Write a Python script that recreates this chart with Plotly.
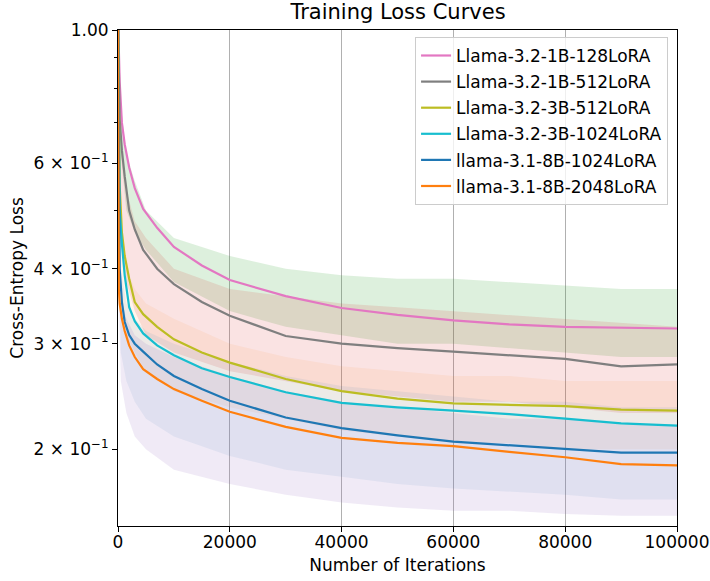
import plotly.graph_objects as go

# ---------------- data ----------------
iters = [0, 150, 300, 700, 1200, 2000, 3000, 4500, 7000, 10000, 15000, 20000,
         30000, 40000, 50000, 60000, 70000, 80000, 90000, 100000]

series_names = ["Llama-3.2-1B-128LoRA", "Llama-3.2-1B-512LoRA", "Llama-3.2-3B-512LoRA",
                "Llama-3.2-3B-1024LoRA", "llama-3.1-8B-1024LoRA", "llama-3.1-8B-2048LoRA"]

loss_1b_128 = [1.05, 0.90, 0.82, 0.70, 0.645, 0.59, 0.545, 0.503, 0.468, 0.435, 0.405, 0.383,
               0.360, 0.344, 0.335, 0.328, 0.323, 0.320, 0.319, 0.318]
loss_1b_512 = [1.05, 0.80, 0.71, 0.63, 0.57, 0.50, 0.465, 0.43, 0.40, 0.377, 0.352, 0.334,
               0.309, 0.300, 0.295, 0.291, 0.287, 0.283, 0.275, 0.277]
loss_3b_512 = [1.05, 0.65, 0.55, 0.46, 0.42, 0.385, 0.352, 0.336, 0.320, 0.305, 0.290, 0.279,
               0.262, 0.250, 0.243, 0.2385, 0.237, 0.236, 0.233, 0.232]
loss_3b_1024 = [1.05, 0.60, 0.50, 0.44, 0.39, 0.345, 0.327, 0.312, 0.298, 0.287, 0.273, 0.264,
                0.249, 0.239, 0.235, 0.232, 0.229, 0.225, 0.221, 0.219]
loss_8b_1024 = [1.05, 0.45, 0.40, 0.352, 0.326, 0.31, 0.30, 0.291, 0.277, 0.265, 0.252, 0.241,
                0.226, 0.217, 0.211, 0.206, 0.203, 0.2005, 0.1975, 0.1975]
loss_8b_2048 = [1.05, 0.37, 0.35, 0.33, 0.315, 0.298, 0.285, 0.272, 0.262, 0.252, 0.241, 0.231,
                0.218, 0.209, 0.205, 0.2025, 0.198, 0.194, 0.189, 0.188]

series_values = [loss_1b_128, loss_1b_512, loss_3b_512, loss_3b_1024, loss_8b_1024, loss_8b_2048]

# envelopes of the faint raw (unsmoothed) curves
band_iters = [0, 500, 1500, 3000, 5000, 10000, 20000, 30000, 40000, 50000, 60000, 70000,
              80000, 90000, 100000]
band_green_hi = [1.0, 0.75, 0.62, 0.56, 0.50, 0.45, 0.42, 0.40, 0.39, 0.385, 0.385, 0.38, 0.375, 0.37, 0.37]
band_green_lo = [0.9, 0.62, 0.50, 0.46, 0.43, 0.38, 0.34, 0.32, 0.31, 0.30, 0.30, 0.295, 0.29, 0.285, 0.285]
band_red_hi = [1.0, 0.65, 0.54, 0.48, 0.45, 0.40, 0.37, 0.36, 0.35, 0.345, 0.34, 0.335, 0.33, 0.325, 0.32]
band_red_lo = [0.8, 0.45, 0.38, 0.34, 0.31, 0.29, 0.27, 0.26, 0.25, 0.245, 0.24, 0.24, 0.235, 0.23, 0.23]
band_orange_hi = [0.9, 0.48, 0.40, 0.37, 0.35, 0.33, 0.30, 0.285, 0.275, 0.27, 0.265, 0.265, 0.26, 0.26, 0.26]
band_orange_lo = [0.6, 0.36, 0.31, 0.29, 0.27, 0.25, 0.235, 0.225, 0.215, 0.21, 0.205, 0.205, 0.20, 0.20, 0.20]
band_blue_hi = [0.8, 0.40, 0.35, 0.33, 0.315, 0.30, 0.28, 0.265, 0.255, 0.25, 0.245, 0.24, 0.24, 0.235, 0.235]
band_blue_lo = [0.5, 0.29, 0.26, 0.24, 0.225, 0.21, 0.195, 0.185, 0.18, 0.175, 0.172, 0.17, 0.168, 0.165, 0.165]
band_purple_hi = [0.7, 0.36, 0.33, 0.31, 0.30, 0.285, 0.265, 0.25, 0.24, 0.235, 0.23, 0.225, 0.225, 0.22, 0.22]
band_purple_lo = [0.4, 0.26, 0.23, 0.21, 0.20, 0.185, 0.175, 0.168, 0.163, 0.16, 0.158, 0.158, 0.156, 0.155, 0.155]

x_ticks = [0, 20000, 40000, 60000, 80000, 100000]
y_ticks = [0.2, 0.3, 0.4, 0.6, 1.0]
y_tick_labels = ["2 × 10<sup>−1</sup>", "3 × 10<sup>−1</sup>",
                 "4 × 10<sup>−1</sup>", "6 × 10<sup>−1</sup>", "1.00"]
y_minor_ticks = [0.5, 0.7, 0.8, 0.9]

# ---------------- styles ----------------
line_colors = ["#e377c2", "#7f7f7f", "#bcbd22", "#17becf", "#1f77b4", "#ff7f0e"]
bands = [
    (band_green_lo, band_green_hi, "rgba(44,160,44,0.16)"),
    (band_red_lo, band_red_hi, "rgba(214,39,40,0.13)"),
    (band_orange_lo, band_orange_hi, "rgba(255,127,14,0.08)"),
    (band_blue_lo, band_blue_hi, "rgba(31,119,180,0.08)"),
    (band_purple_lo, band_purple_hi, "rgba(148,103,189,0.14)"),
]

fig = go.Figure()
for lo, hi, col in bands:
    fig.add_trace(go.Scatter(x=band_iters, y=lo, mode="lines", line=dict(width=0, color=col),
                             showlegend=False, hoverinfo="skip"))
    fig.add_trace(go.Scatter(x=band_iters, y=hi, mode="lines", line=dict(width=0, color=col),
                             fill="tonexty", fillcolor=col, showlegend=False, hoverinfo="skip"))

for name, vals, col in zip(series_names, series_values, line_colors):
    fig.add_trace(go.Scatter(x=iters, y=vals, mode="lines", name=name, legendgroup=name,
                             line=dict(color=col, width=2.2)))

W, H = 710, 581
font = "DejaVu Sans, sans-serif"
fig.update_layout(
    width=W, height=H,
    margin=dict(l=118, r=33, t=30, b=55, autoexpand=False),
    paper_bgcolor="white", plot_bgcolor="white",
    font=dict(family=font, size=17, color="black"),
    title=dict(text="Training Loss Curves", x=398 / W, xanchor="center",
               y=1 - 12 / H, yanchor="middle", font=dict(size=21)),
    legend=dict(x=0.984, y=0.986, xanchor="right", yanchor="top",
                bgcolor="rgba(255,255,255,0.8)", bordercolor="#cccccc", borderwidth=1,
                font=dict(size=17), tracegroupgap=1, itemwidth=30),
    showlegend=True,
)
fig.update_xaxes(
    range=[0, 100000], tickvals=x_ticks, ticktext=[str(v) for v in x_ticks],
    showline=True, linecolor="black", linewidth=1, mirror=True, automargin=False,
    ticks="outside", ticklen=5, tickcolor="black", tickfont=dict(size=17),
    ticklabelstandoff=-4,
    showgrid=True, gridcolor="#b0b0b0", gridwidth=1, zeroline=False,
    title=dict(text="Number of Iterations", standoff=7, font=dict(size=17)),
)
fig.update_yaxes(
    type="log", range=[-0.8268, 0], tickvals=y_ticks, ticktext=y_tick_labels,
    showline=True, linecolor="black", linewidth=1, mirror=True, automargin=False,
    ticks="outside", ticklen=5, tickcolor="black", tickfont=dict(size=17),
    minor=dict(tickvals=y_minor_ticks, ticks="outside", ticklen=3, tickcolor="black", showgrid=False),
    showgrid=False, zeroline=False,
    title=dict(text="Cross-Entropy Loss", standoff=5, font=dict(size=17)),
)

# remove the browser's default 8px body margin so the figure sits at the page origin
fig.write_html("out.html", config={"displayModeBar": False},
               post_script="document.body.style.margin='0';")
